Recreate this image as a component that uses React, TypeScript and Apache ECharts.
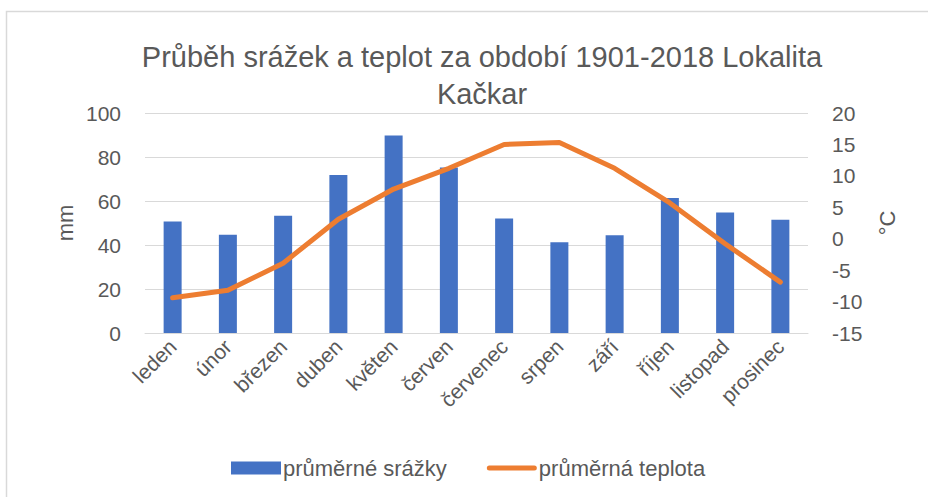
import React, { useEffect, useRef } from "react";
import * as echarts from "echarts";

const months = ["leden", "únor", "březen", "duben", "květen", "červen", "červenec", "srpen", "září", "říjen", "listopad", "prosinec"];
const precipitation = [50.7, 44.7, 53.3, 71.8, 89.8, 75.2, 52.1, 41.2, 44.4, 61.4, 54.8, 51.5];
const temperature = [-9.4, -8.2, -3.9, 3.1, 7.9, 11.2, 15.0, 15.3, 11.2, 5.7, -0.8, -6.9];
const titleText = "Průběh srážek a teplot za období 1901-2018 Lokalita\nKačkar";
const seriesNames = ["průměrné srážky", "průměrná teplota"];

const FONT = "'Liberation Sans', Arial, sans-serif";
const GRAY = "#595959";

export default function App() {
  const ref = useRef<HTMLDivElement>(null);
  useEffect(() => {
    document.body.style.margin = "0";
    const chart = echarts.init(ref.current!, null, { renderer: "svg" });
    chart.setOption({
      animation: false,
      backgroundColor: "#ffffff",
      textStyle: { fontFamily: FONT },
      title: {
        text: titleText,
        left: 482,
        textAlign: "center",
        top: 38,
        padding: 0,
        textStyle: { fontFamily: FONT, fontSize: 29, fontWeight: "normal", color: GRAY, lineHeight: 37 },
      },
      graphic: [
        { type: "rect", shape: { x: 6.5, y: 11.5, width: 1000, height: 600 }, style: { fill: "none", stroke: "#d9d9d9", lineWidth: 1.5 }, silent: true },
        { type: "text", x: 65, y: 223, rotation: Math.PI / 2, style: { text: "mm", fontSize: 22, fontFamily: FONT, fill: GRAY, align: "center", verticalAlign: "middle" } },
        { type: "text", x: 887, y: 223, rotation: Math.PI / 2, style: { text: "°C", fontSize: 22, fontFamily: FONT, fill: GRAY, align: "center", verticalAlign: "middle" } },
      ],
      legend: {
        bottom: 18,
        left: 231,
        itemWidth: 50,
        itemHeight: 13,
        itemGap: 40,
        padding: 0,
        textStyle: { fontFamily: FONT, fontSize: 22, color: GRAY, padding: [0, 0, 0, -3] },
        data: [
          { name: seriesNames[0], icon: "rect" },
          { name: seriesNames[1], icon: "path://M2.5,0 L47.5,0 A2.5,2.5 0 0 1 47.5,5 L2.5,5 A2.5,2.5 0 0 1 2.5,0 Z" },
        ],
      },
      grid: { left: 145, right: 120, top: 113, bottom: 164 },
      xAxis: {
        type: "category",
        data: months,
        axisLine: { lineStyle: { color: "#d9d9d9", width: 1 } },
        axisTick: { show: false },
        axisLabel: { rotate: 45, fontSize: 21, color: GRAY, fontFamily: FONT, margin: 10, interval: 0 },
      },
      yAxis: [
        {
          type: "value",
          min: 0,
          max: 100,
          interval: 20,
          axisLine: { show: false },
          axisTick: { show: false },
          splitLine: { lineStyle: { color: "#d9d9d9", width: 1 } },
          axisLabel: { fontSize: 21, color: GRAY, fontFamily: FONT, margin: 24 },
        },
        {
          type: "value",
          min: -15,
          max: 20,
          interval: 5,
          position: "right",
          axisLine: { show: false },
          axisTick: { show: false },
          splitLine: { show: false },
          axisLabel: { fontSize: 21, color: GRAY, fontFamily: FONT, margin: 24, align: "left" },
        },
      ],
      series: [
        {
          name: seriesNames[0],
          type: "bar",
          data: precipitation,
          barWidth: 18,
          itemStyle: { color: "#4472C4" },
          yAxisIndex: 0,
        },
        {
          name: seriesNames[1],
          type: "line",
          data: temperature,
          yAxisIndex: 1,
          symbol: "none",
          lineStyle: { color: "#ED7D31", width: 5, cap: "round", join: "round" },
          itemStyle: { color: "#ED7D31" },
        },
      ],
    });
    return () => chart.dispose();
  }, []);
  return <div ref={ref} style={{ width: 928, height: 497 }} />;
}
